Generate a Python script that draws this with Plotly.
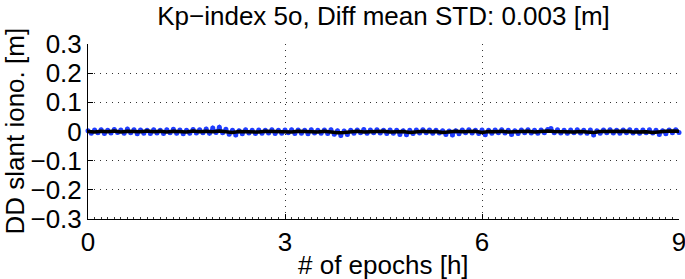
import numpy as np
import plotly.graph_objects as go

# DD slant ionosphere residuals [m]
blue_diff = [
    0.003, -0.006, 0.005, -0.004, 0.006, -0.007, 0.004, -0.005, 0.007, -0.003, 0.005,
    -0.006, 0.009, -0.004, 0.006, -0.008, 0.005, -0.006, 0.004, -0.007, 0.006,
    -0.005, 0.004, -0.007, 0.006, -0.004, 0.008, -0.006, 0.005, -0.008, 0.004,
    -0.006, 0.007, -0.005, 0.006, -0.004, 0.009, -0.006, 0.012, -0.003, 0.015,
    -0.004, 0.008, -0.009, 0.004, -0.012, 0.003, -0.008, 0.006, -0.005, 0.004,
    -0.007, 0.005, -0.006, 0.004, -0.005, 0.006, -0.007, 0.004, -0.006, 0.005,
    -0.004, 0.006, -0.007, 0.005, -0.006, 0.004, -0.008, 0.006, -0.005, 0.004,
    -0.006, 0.005, -0.007, 0.006, -0.009, 0.003, -0.014, 0.002, -0.010, 0.004,
    -0.006, 0.005, -0.004, 0.007, -0.006, 0.005, -0.004, 0.006, -0.005, 0.004,
    -0.007, 0.005, -0.006, 0.004, -0.010, 0.003, -0.011, 0.004, -0.007, 0.005,
    -0.005, 0.006, -0.004, 0.005, -0.006, 0.004, -0.005, 0.003, -0.010, 0.002,
    -0.012, 0.003, -0.008, 0.005, -0.004, 0.006, -0.005, 0.004, -0.007, 0.005,
    -0.011, 0.004, -0.006, 0.005, -0.004, 0.006, -0.005, 0.004, -0.010, 0.003,
    -0.007, 0.005, -0.004, 0.006, -0.005, 0.004, -0.006, 0.005, -0.004, 0.007,
    0.010, -0.004, 0.006, -0.005, 0.004, -0.006, 0.005, -0.004, 0.006, -0.005,
    0.004, -0.006, 0.005, -0.012, 0.003, -0.006, 0.005, -0.004, 0.006, -0.005,
    0.004, -0.006, 0.005, -0.004, 0.006, -0.005, 0.004, -0.006, 0.005, -0.004,
    0.006, -0.005, 0.004, -0.010, 0.003, -0.008, 0.005, -0.004, 0.006, -0.003,
]

black_diff = [
    0.000, -0.002, 0.001, -0.001, 0.002, -0.002, 0.001, 0.000, -0.001, 0.002,
    -0.001, 0.001, -0.002, 0.001, 0.000, -0.002, 0.002, -0.001, 0.001, -0.001,
    0.002, -0.002, -0.003, 0.000, -0.001, 0.001, -0.002, 0.001, 0.000, -0.001,
    0.001, -0.002, 0.001, -0.001, 0.000, -0.002, 0.001, -0.002, -0.004, -0.003,
    -0.001, 0.001, -0.002, 0.000, -0.001, 0.001, -0.002, -0.001, 0.000, -0.003,
    -0.002, 0.001, -0.001, 0.000, -0.003, -0.002, 0.001, -0.001, 0.000, 0.001,
    -0.003, 0.000, -0.001, 0.001, -0.002, -0.001, 0.000, 0.001, -0.002, 0.000,
    0.002, 0.000, -0.001, 0.001, -0.002, 0.000, -0.001, -0.003, 0.000, 0.001,
    -0.001, 0.000, 0.001, -0.002, 0.000, -0.001, -0.003, 0.000, 0.001, 0.002,
    0.001,
]

x_ticks = [0, 3, 6, 9]
y_ticks = [-0.3, -0.2, -0.1, 0, 0.1, 0.2, 0.3]

# epochs evenly spread over the 9 h session
t_blue = np.linspace(0, 9, len(blue_diff))
t_black = np.linspace(0, 9, len(black_diff))

font = "Liberation Sans, Arial, sans-serif"
fsize = 26

W, H = 685, 279
L, R, T, B = 88, 6, 44, 60
pw, ph = W - L - R, H - T - B

fig = go.Figure()

fig.add_trace(go.Scatter(
    x=t_blue, y=blue_diff, mode='lines+markers',
    line=dict(color='#1f3cff', width=3),
    marker=dict(color='#1f3cff', size=5),
    showlegend=False, cliponaxis=False
))

fig.add_trace(go.Scatter(
    x=t_black, y=black_diff, mode='lines',
    line=dict(color='black', width=3.5),
    showlegend=False, cliponaxis=False
))

axis_common = dict(
    showline=True, linecolor='black', linewidth=1,
    ticks='inside', tickcolor='black', ticklen=5,
    showgrid=True, gridcolor='#333', griddash='1px,5px', gridwidth=1,
    zeroline=False, mirror=False, automargin=False,
    tickfont=dict(family=font, size=fsize, color='black'),
    ticklabeloverflow='allow',
)

fig.update_xaxes(
    range=[0, 9], tickvals=x_ticks, ticktext=[str(v) for v in x_ticks],
    minor=dict(dtick=0.1, ticks='inside', ticklen=2, tickcolor='#333', showgrid=False),
    **axis_common
)
fig.update_yaxes(
    range=[-0.3, 0.3], tickvals=y_ticks,
    ticktext=['\u22120.3', '\u22120.2', '\u22120.1', '0', '0.1', '0.2', '0.3'],
    **axis_common
)

fig.update_layout(
    width=W, height=H,
    margin=dict(l=L, r=R, t=T, b=B),
    plot_bgcolor='white', paper_bgcolor='white',
    title=dict(
        text='Kp\u2212index 5o, Diff mean STD: 0.003 [m]',
        font=dict(family=font, size=fsize, color='black'),
        x=(L + W - R) / 2 / W, xanchor='center',
        y=1 - 16 / H, yanchor='middle', yref='container'
    ),
)

# axis titles placed as annotations so they sit where the original has them
fig.add_annotation(
    text='# of epochs [h]', xref='paper', yref='paper',
    x=0.5, y=-(265 - (H - B)) / ph, xanchor='center', yanchor='middle',
    showarrow=False, font=dict(family=font, size=fsize, color='black')
)
fig.add_annotation(
    text='DD slant iono. [m]', xref='paper', yref='paper',
    x=-(L - 14) / pw, y=0.5, xanchor='center', yanchor='middle', textangle=-90,
    showarrow=False, font=dict(family=font, size=fsize, color='black')
)

# drop the default 8px body margin so the figure fills the window exactly
fig.write_html("out.html", config={'displayModeBar': False},
               post_script="document.body.style.margin='0';")
